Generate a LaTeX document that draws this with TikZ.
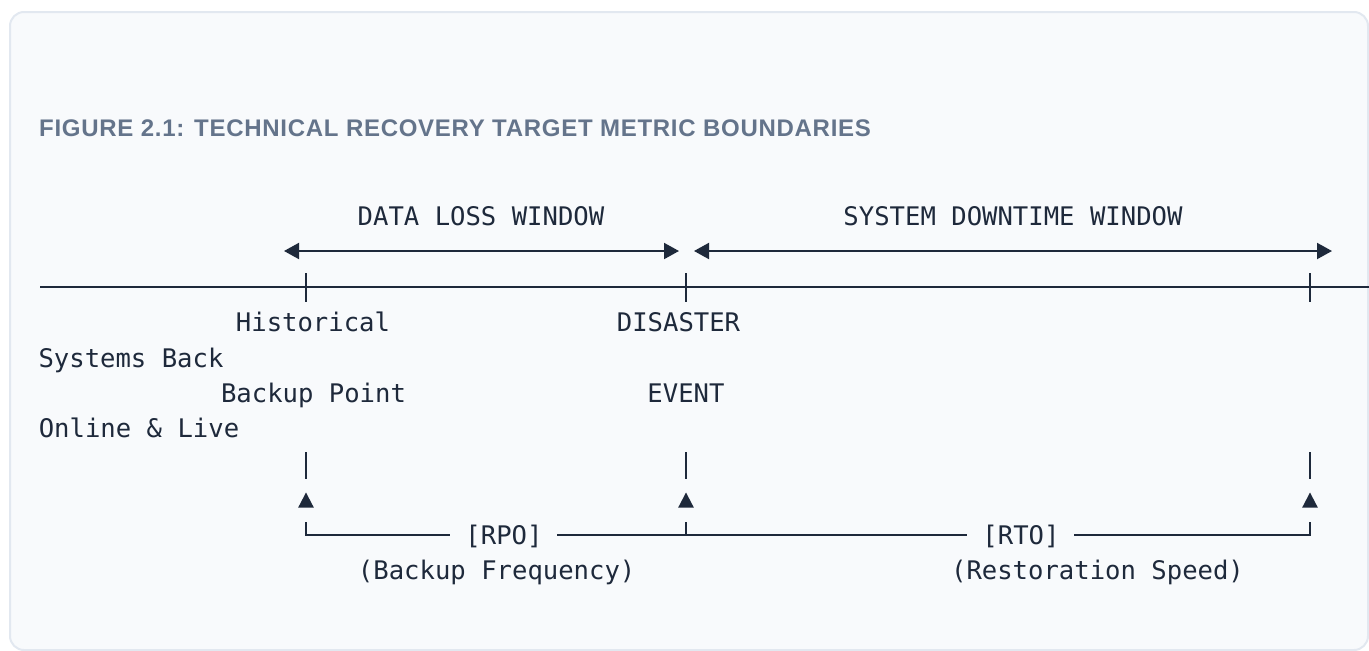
\documentclass[tikz,border=0pt]{standalone}
\usepackage{fontspec}
\setmainfont{Liberation Sans}
\newfontfamily\monof{DejaVu Sans Mono}
\newfontfamily\titlef[LetterSpace=3]{Liberation Sans}
\usetikzlibrary{arrows.meta}
\definecolor{ink}{HTML}{1E293B}
\definecolor{slate}{HTML}{64748B}
\definecolor{cardbg}{HTML}{F8FAFC}
\definecolor{cardline}{HTML}{E2E8F0}
\begin{document}
\begin{tikzpicture}[x=1pt,y=-1pt,
  mono/.style={font=\monof\fontsize{25.6}{30}\selectfont, text=ink, inner sep=0pt, anchor=base},
  rule/.style={draw=ink, line width=2pt},
  span/.style={rule, {Triangle[length=15pt,width=16pt]}-{Triangle[length=15pt,width=16pt]}},
  tri/.style={fill=ink},
]
\useasboundingbox (0,0) rectangle (1369,651);
\path[fill=cardbg, draw=cardline, line width=2pt, rounded corners=14pt] (10,12) rectangle (1368,650);

\node[anchor=base west, font=\titlef\bfseries\fontsize{24}{28}\selectfont, text=slate, inner sep=0pt] (title) at (39,136) {FIGURE 2.1: TECHNICAL RECOVERY TARGET METRIC BOUNDARIES};

% window labels
\node[mono] (dlw) at (481,225) {DATA LOSS WINDOW};
\node[mono] (sdw) at (1013,225) {SYSTEM DOWNTIME WINDOW};

% span arrows
\coordinate (a1l) at (284,251); \coordinate (a1r) at (679,251);
\coordinate (a2l) at (694,251); \coordinate (a2r) at (1332,251);
\draw[span] (a1l) -- (a1r);
\draw[span] (a2l) -- (a2r);

% main time line
\coordinate (m0) at (40,287); \coordinate (m1) at (1369,287);
\draw[rule] (m0) -- (m1);
\foreach \x/\n in {306/b,686/d,1310/s}{
  \coordinate (t\n) at (\x,273); \coordinate (u\n) at (\x,302);
  \draw[rule] (t\n) -- (u\n);
  \coordinate (v\n) at (\x,452); \coordinate (w\n) at (\x,479);
  \draw[rule] (v\n) -- (w\n);
  \fill[tri] (\x,492.5) -- (\x+7.8,507.5) -- (\x-7.8,507.5) -- cycle;
}

% point labels
\node[mono] (hist) at (313,331) {Historical};
\node[mono] (disa) at (678.5,331) {DISASTER};
\node[mono] (sysb) at (131,367) {Systems Back};
\node[mono] (bpt) at (313.5,402) {Backup Point};
\node[mono] (evt) at (686,402) {EVENT};
\node[mono] (onl) at (139,437.5) {Online \& Live};

% bottom bracket
\node[mono] (rpo) at (504,544) {[RPO]};
\node[mono] (rto) at (1021,544) {[RTO]};
\coordinate (c1) at (306,522); \coordinate (c2) at (1310,522);
\coordinate (c3) at (686,522); \coordinate (c4) at (686,535);
\coordinate (r1) at (450,535); \coordinate (r2) at (557,535);
\coordinate (r3) at (967,535); \coordinate (r4) at (1074,535);
\draw[rule] (c1) |- (r1);
\draw[rule] (r2) -- (r3);
\draw[rule] (c3) -- (c4);
\draw[rule] (r4) -| (c2);

\node[mono] (bf) at (496.7,579.5) {(Backup Frequency)};
\node[mono] (rs) at (1097.5,579.5) {(Restoration Speed)};
\end{tikzpicture}
\end{document}
